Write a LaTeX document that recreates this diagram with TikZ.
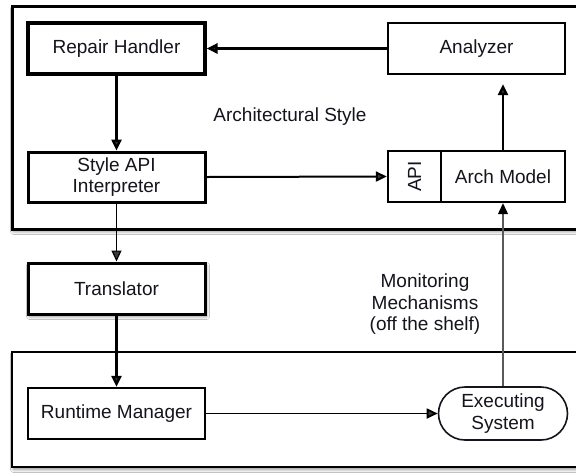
\documentclass[tikz,border=0pt]{standalone}
\usepackage{fontspec}
\setmainfont{Liberation Sans}
\usetikzlibrary{arrows.meta,shapes.misc,shadows.blur}
\definecolor{ink}{HTML}{14141C}
\tikzset{
  x=1pt, y=-1pt,
  every node/.style={font=\fontsize{19}{21.5}\selectfont, text=ink},
  comp/.style={draw=black, fill=white, inner sep=0pt, align=center},
  frame/.style={draw=black, fill=white},
  softshadow/.style={blur shadow={shadow xshift=1.5pt, shadow yshift=-2.5pt, shadow blur steps=6, shadow blur radius=3pt, shadow opacity=45}},
  tip/.style={-{Triangle[length=11pt,width=10pt]}},
}
\begin{document}
\begin{tikzpicture}
\useasboundingbox (0,0) rectangle (576,475);
\fill[white] (0,0) rectangle (576,475);

% enclosing frames (they run past the right edge)
\draw[frame, line width=3pt, softshadow] (12,6) rectangle (600,229);
\draw[frame, line width=2.4pt, softshadow] (12,352) rectangle (600,467);

% architecture layer
\node[comp, line width=3.2pt, minimum width=177pt, minimum height=51pt] (rh) at (116.5,48.5) {Repair Handler};
\node[comp, line width=2.2pt, minimum width=177pt, minimum height=51pt] (an) at (476.5,48.5) {Analyzer};
\node[comp, line width=3pt, minimum width=177pt, minimum height=50pt] (si) at (116.5,177) {Style API\\Interpreter};
\node[comp, line width=2.4pt, minimum width=53pt, minimum height=51pt] (api) at (414.5,176.5) {\rotatebox{90}{API}};
\node[comp, line width=2.4pt, minimum width=124pt, minimum height=51pt] (am) at (503,176.5) {Arch Model};
\node (as) at (290,117) {Architectural Style};

% translation
\node[comp, line width=3pt, minimum width=177pt, minimum height=51pt, softshadow] (tr) at (116.5,288.5) {Translator};

% runtime layer
\node[comp, line width=2.4pt, minimum width=177pt, minimum height=51pt] (rm) at (116.5,413.5) {Runtime Manager};
\node[comp, draw=ink, line width=1.6pt, rounded rectangle, minimum width=129pt, minimum height=53pt] (ex) at (503,413.5) {Executing\\System};
\node[align=center] (mm) at (425,304.5) {Monitoring\\Mechanisms\\(off the shelf)};

% connectors
\draw[tip, line width=3.4pt] (an.west) -- (rh.east);
\draw[tip, line width=2.4pt] (rh.south) -- (si.north);
\draw[tip, line width=2pt] (si.east) -- (api.west);
\draw[tip, line width=2.4pt, shorten >=9pt] (am.north) -- (am.north |- an.south);
\draw[tip, line width=1.2pt] (si.south) -- (tr.north);
\draw[tip, line width=2.4pt] (tr.south) -- (rm.north);
\draw[tip, line width=1.8pt] (rm.east) -- (ex.west);
\draw[-{Triangle[length=11pt,width=10pt,color=black]}, draw=gray!70!black, line width=1.2pt] (ex.north) -- (am.south);
\end{tikzpicture}
\end{document}
